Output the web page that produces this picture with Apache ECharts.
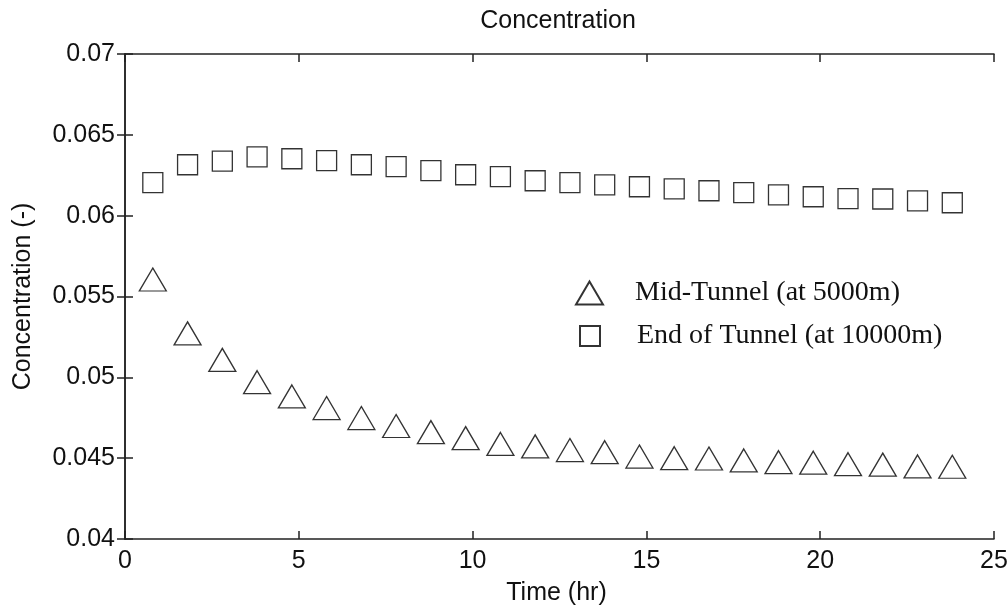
<!DOCTYPE html>
<html>
<head>
<meta charset="utf-8">
<script src="https://cdn.jsdelivr.net/npm/echarts@6/dist/echarts.min.js"></script>
<style>html,body{margin:0;padding:0;background:#fff;}#c{width:1008px;height:609px;}</style>
</head>
<body>
<div id="c"></div>
<script>
const timeHr = [0.8,1.8,2.8,3.8,4.8,5.8,6.8,7.8,8.8,9.8,10.8,11.8,12.8,13.8,14.8,15.8,16.8,17.8,18.8,19.8,20.8,21.8,22.8,23.8];
const midTunnel = [0.05605,0.05272,0.05108,0.04970,0.04882,0.04810,0.04748,0.04699,0.04661,0.04624,0.04588,0.04573,0.04550,0.04537,0.04510,0.04500,0.04498,0.04486,0.04475,0.04472,0.04463,0.04460,0.04449,0.04447];
const endTunnel = [0.06204,0.06315,0.06337,0.06364,0.06352,0.06340,0.06315,0.06303,0.06278,0.06253,0.06241,0.06216,0.06204,0.06191,0.06179,0.06166,0.06154,0.06142,0.06129,0.06117,0.06105,0.06103,0.06092,0.06080];
const seriesNames = ['Mid-Tunnel (at 5000m)', 'End of Tunnel (at 10000m)'];
const titleText = 'Concentration';
const xAxisName = 'Time (hr)';
const yAxisName = 'Concentration (-)';

const pair = (xs, ys) => xs.map((x, i) => [x, ys[i]]);
const sans = 'Liberation Sans, Arial, sans-serif';
const serif = 'Liberation Serif, Times New Roman, serif';
const ink = '#111';

const axisLine = { show: true, lineStyle: { color: '#222', width: 1.5 } };
const axisTick = { show: true, inside: true, length: 8, lineStyle: { color: '#222', width: 1.5 } };

const chart = echarts.init(document.getElementById('c'), null, { renderer: 'canvas' });
chart.setOption({
  backgroundColor: '#fff',
  animation: false,
  title: {
    text: titleText, left: 553, top: 4, textAlign: 'center',
    textStyle: { fontFamily: sans, fontSize: 25, fontWeight: 'normal', color: ink }
  },
  grid: { left: 125, top: 54, right: 14, bottom: 70, containLabel: false, outerBoundsMode: 'none' },
  xAxis: [
    { type: 'value', min: 0, max: 25, interval: 5, position: 'bottom',
      name: xAxisName, nameLocation: 'middle', nameGap: 42,
      nameTextStyle: { fontFamily: sans, fontSize: 25, color: ink, padding: [0, 6, 0, 0] },
      axisLine, axisTick, splitLine: { show: false },
      axisLabel: { fontFamily: sans, fontSize: 25, color: ink, margin: 10 } },
    { type: 'value', min: 0, max: 25, interval: 5, position: 'top',
      axisLine, axisTick, splitLine: { show: false }, axisLabel: { show: false } }
  ],
  yAxis: [
    { type: 'value', min: 0.04, max: 0.07, interval: 0.005, position: 'left',
      name: yAxisName, nameLocation: 'middle', nameGap: 89, nameRotate: 90,
      nameTextStyle: { fontFamily: sans, fontSize: 25, color: ink },
      axisLine, axisTick, splitLine: { show: false },
      axisLabel: { fontFamily: sans, fontSize: 25, color: ink, margin: 10,
        formatter: v => String(parseFloat(v.toFixed(3))) } },
    { type: 'value', min: 0.04, max: 0.07, interval: 0.005, position: 'right',
      axisLine, axisTick, splitLine: { show: false }, axisLabel: { show: false } }
  ],
  legend: [
    { data: [seriesNames[0]], orient: 'vertical', left: 575, top: 279,
      itemWidth: 27, itemHeight: 23, padding: 0, selectedMode: false,
      textStyle: { fontFamily: serif, fontSize: 28, color: ink, padding: [0, 0, 0, 27] } },
    { data: [seriesNames[1]], orient: 'vertical', left: 579, top: 322,
      itemWidth: 20, itemHeight: 20, padding: 0, selectedMode: false,
      textStyle: { fontFamily: serif, fontSize: 28, color: ink, padding: [0, 0, 0, 32] } }
  ],
  series: [
    { name: seriesNames[0], type: 'scatter', data: pair(timeHr, midTunnel),
      symbol: 'triangle', symbolSize: [27, 23],
      itemStyle: { color: '#fff', borderColor: '#000', borderWidth: 1.3 } },
    { name: seriesNames[1], type: 'scatter', data: pair(timeHr, endTunnel),
      symbol: 'rect', symbolSize: [20, 20],
      itemStyle: { color: '#fff', borderColor: '#000', borderWidth: 1.3 } }
  ]
});
</script>
</body>
</html>
